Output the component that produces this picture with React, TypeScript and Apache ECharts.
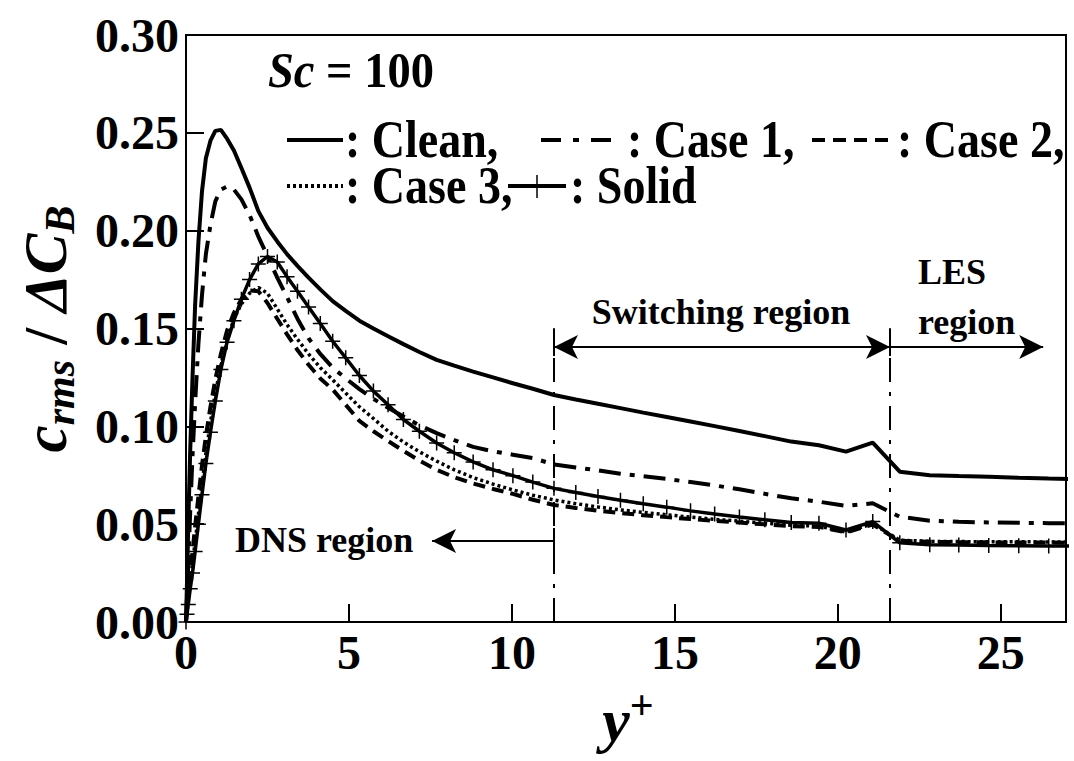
import React, { useEffect, useRef } from 'react';
import * as echarts from 'echarts';

// wall distance y+ (grid points of the profiles)
const yPlus = [0, 0.03, 0.07, 0.13, 0.2, 0.28, 0.38, 0.49, 0.61, 0.75, 0.9, 1.07, 1.26, 1.47, 1.7, 1.95, 2.22, 2.5, 2.8, 3.1, 3.42, 3.76, 4.12, 4.5, 4.9, 5.32, 5.75, 6.2, 6.67, 7.16, 7.69, 8.23, 8.81, 9.42, 10.03, 10.64, 11.29, 11.96, 12.64, 13.33, 14.03, 14.75, 15.48, 16.22, 16.98, 17.76, 18.57, 19.42, 20.25, 21.07, 21.9, 22.82, 23.71, 24.63, 25.55, 26.47, 27.39];

const clean = [0, 0.02, 0.05, 0.088, 0.125, 0.162, 0.194, 0.22, 0.237, 0.246, 0.251, 0.2515, 0.247, 0.241, 0.232, 0.222, 0.21, 0.2015, 0.1945, 0.188, 0.182, 0.176, 0.17, 0.164, 0.159, 0.154, 0.15, 0.146, 0.142, 0.138, 0.134, 0.131, 0.128, 0.125, 0.122, 0.1192, 0.116, 0.1137, 0.1115, 0.1093, 0.107, 0.1048, 0.1025, 0.1001, 0.0976, 0.095, 0.0922, 0.0903, 0.0871, 0.0917, 0.0768, 0.075, 0.0746, 0.0742, 0.0737, 0.0733, 0.073];

const case1 = [0, 0.012, 0.03, 0.057, 0.085, 0.112, 0.142, 0.167, 0.188, 0.203, 0.215, 0.221, 0.2226, 0.221, 0.216, 0.208, 0.197, 0.187, 0.176, 0.166, 0.155, 0.145, 0.137, 0.13, 0.1245, 0.119, 0.114, 0.1095, 0.105, 0.1005, 0.0965, 0.093, 0.0895, 0.0872, 0.0855, 0.0838, 0.0805, 0.079, 0.0775, 0.0758, 0.0745, 0.0731, 0.0715, 0.0698, 0.0678, 0.0655, 0.0632, 0.0615, 0.0593, 0.0607, 0.0538, 0.0518, 0.0512, 0.0509, 0.0507, 0.0505, 0.0504];

const case2 = [0, 0.006, 0.013, 0.024, 0.036, 0.049, 0.064, 0.08, 0.095, 0.11, 0.124, 0.137, 0.149, 0.158, 0.165, 0.1695, 0.169, 0.163, 0.155, 0.147, 0.139, 0.1315, 0.1245, 0.1188, 0.111, 0.1028, 0.0975, 0.0925, 0.0875, 0.0825, 0.0778, 0.074, 0.0708, 0.068, 0.0655, 0.0625, 0.0598, 0.0583, 0.0569, 0.0557, 0.0546, 0.0536, 0.0526, 0.0517, 0.0508, 0.0499, 0.049, 0.0486, 0.0458, 0.0498, 0.0415, 0.041, 0.0408, 0.0407, 0.0406, 0.0406, 0.0405];

const case3 = [0, 0.005, 0.011, 0.02, 0.03, 0.041, 0.055, 0.07, 0.086, 0.102, 0.117, 0.131, 0.144, 0.155, 0.1625, 0.168, 0.171, 0.168, 0.16, 0.152, 0.1445, 0.137, 0.13, 0.1238, 0.117, 0.11, 0.104, 0.0975, 0.092, 0.087, 0.0822, 0.0778, 0.0738, 0.0705, 0.0675, 0.0648, 0.0624, 0.0605, 0.0588, 0.0573, 0.056, 0.0548, 0.0536, 0.0525, 0.0515, 0.0505, 0.0495, 0.049, 0.046, 0.0502, 0.0418, 0.0412, 0.0411, 0.041, 0.041, 0.0409, 0.0409];

const solid = [0, 0.004, 0.009, 0.017, 0.025, 0.036, 0.05, 0.065, 0.081, 0.097, 0.113, 0.129, 0.143, 0.154, 0.165, 0.175, 0.183, 0.1868, 0.184, 0.1765, 0.169, 0.161, 0.1525, 0.1435, 0.135, 0.126, 0.118, 0.111, 0.1035, 0.0975, 0.0915, 0.0865, 0.0818, 0.0778, 0.0748, 0.0715, 0.0683, 0.0662, 0.0641, 0.0622, 0.0604, 0.0587, 0.0568, 0.0552, 0.0537, 0.0522, 0.0508, 0.0505, 0.047, 0.0513, 0.0405, 0.0395, 0.0393, 0.0391, 0.039, 0.0389, 0.0388];

// axis settings
const xMin = 0;
const xMax = 27;
const xStep = 5;
const yMin = 0;
const yMax = 0.3;
const yStep = 0.05;

// region boundaries (annotations, data coordinates)
const switchX = 11.29;
const lesX = 21.6;
const regionTop = 0.15;
const arrowY = 0.1406;
const lesArrowEnd = 26.3;
const dnsY = 0.0414;
const dnsArrowEnd = 7.55;

const FONT = '"Liberation Serif", "Times New Roman", Times, serif';
const PLUS =
  'path://M-0.1,-1 L0.1,-1 L0.1,-0.1 L1,-0.1 L1,0.1 L0.1,0.1 L0.1,1 L-0.1,1 L-0.1,0.1 L-1,0.1 L-1,-0.1 L-0.1,-0.1 Z';

const pairs = (ys: number[]) => yPlus.map((x, i) => [x, ys[i]]);

function txt(x: number, y: number, text: string, size: number, align = 'left', scaleX = 1) {
  return {
    type: 'text',
    x,
    y,
    scaleX,
    silent: true,
    style: {
      text,
      fontFamily: FONT,
      fontWeight: 'bold',
      fontSize: size,
      fill: '#000',
      textAlign: align,
      align,
      textVerticalAlign: 'middle',
      verticalAlign: 'middle',
    },
  };
}

function seg(x1: number, y1: number, x2: number, y2: number, width: number, dash?: number[]) {
  return {
    type: 'line',
    silent: true,
    shape: { x1, y1, x2, y2 },
    style: { stroke: '#000', lineWidth: width, lineDash: dash || null, lineCap: 'butt' },
  };
}

export default function App() {
  const ref = useRef<HTMLDivElement>(null);

  useEffect(() => {
    if (!ref.current) return;
    const chart = echarts.init(ref.current, undefined, { renderer: 'svg' });

    const vLine = { color: '#000', width: 2, type: [24, 10, 4, 10] };
    const sLine = { color: '#000', width: 2, type: 'solid' };
    const LF = 52;
    const LS = 0.885;

    const option: any = {
      animation: false,
      backgroundColor: '#fff',
      grid: {
        left: 186,
        right: 8,
        top: 35,
        bottom: 139,
        show: true,
        borderColor: '#000',
        borderWidth: 2,
        backgroundColor: 'transparent',
      },
      xAxis: {
        type: 'value',
        min: xMin,
        max: xMax,
        interval: xStep,
        axisLine: { show: true, lineStyle: { color: '#000', width: 2 } },
        axisTick: { show: true, inside: true, length: 18, lineStyle: { color: '#000', width: 2 } },
        axisLabel: {
          color: '#000',
          fontFamily: FONT,
          fontWeight: 'bold',
          fontSize: 48,
          margin: 6,
          showMaxLabel: false,
          formatter: (v: number) => (v % xStep === 0 ? String(v) : ''),
        },
        splitLine: { show: false },
      },
      yAxis: {
        type: 'value',
        min: yMin,
        max: yMax,
        interval: yStep,
        axisLine: { show: true, lineStyle: { color: '#000', width: 2 } },
        axisTick: { show: true, inside: true, length: 18, lineStyle: { color: '#000', width: 2 } },
        axisLabel: {
          color: '#000',
          fontFamily: FONT,
          fontWeight: 'bold',
          fontSize: 48,
          margin: 7,
          formatter: (v: number) => v.toFixed(2),
        },
        splitLine: { show: false },
      },
      series: [
        {
          name: 'Clean',
          type: 'line',
          data: pairs(clean),
          showSymbol: false,
          lineStyle: { color: '#000', width: 4 },
          z: 3,
          markLine: {
            silent: true,
            animation: false,
            symbol: ['none', 'none'],
            symbolSize: [18, 24],
            label: { show: false },
            itemStyle: { color: '#000' },
            data: [
              [{ coord: [switchX, 0], lineStyle: vLine }, { coord: [switchX, regionTop] }],
              [{ coord: [lesX, 0], lineStyle: vLine }, { coord: [lesX, regionTop] }],
              [{ coord: [switchX, 0.136], lineStyle: sLine }, { coord: [switchX, regionTop] }],
              [{ coord: [lesX, 0.136], lineStyle: sLine }, { coord: [lesX, regionTop] }],
              [{ coord: [switchX, 0.035], lineStyle: sLine }, { coord: [switchX, 0.048] }],
              [
                { coord: [switchX, arrowY], symbol: 'arrow', lineStyle: sLine },
                { coord: [lesX, arrowY], symbol: 'arrow' },
              ],
              [
                { coord: [lesX, arrowY], symbol: 'none', lineStyle: sLine },
                { coord: [lesArrowEnd, arrowY], symbol: 'arrow' },
              ],
              [
                { coord: [switchX, dnsY], symbol: 'none', lineStyle: sLine },
                { coord: [dnsArrowEnd, dnsY], symbol: 'arrow' },
              ],
            ],
          },
        },
        {
          name: 'Case 1',
          type: 'line',
          data: pairs(case1),
          showSymbol: false,
          lineStyle: { color: '#000', width: 4, type: [22, 9, 5, 9] },
          z: 3,
        },
        {
          name: 'Case 2',
          type: 'line',
          data: pairs(case2),
          showSymbol: false,
          lineStyle: { color: '#000', width: 4, type: [12, 7] },
          z: 3,
        },
        {
          name: 'Case 3',
          type: 'line',
          data: pairs(case3),
          showSymbol: false,
          lineStyle: { color: '#000', width: 3.5, type: [3, 3] },
          z: 3,
        },
        {
          name: 'Solid',
          type: 'line',
          data: pairs(solid),
          showSymbol: true,
          symbol: PLUS,
          symbolSize: 15,
          itemStyle: { color: '#000', borderWidth: 0 },
          lineStyle: { color: '#000', width: 3.5 },
          z: 4,
        },
      ],
      graphic: [
        // legend
        {
          type: 'text',
          x: 268,
          y: 70,
          scaleX: 0.93,
          silent: true,
          style: {
            text: '{i|Sc}{n| = 100}',
            fill: '#000',
            textVerticalAlign: 'middle',
            verticalAlign: 'middle',
            rich: {
              i: { fontFamily: FONT, fontStyle: 'italic', fontWeight: 'bold', fontSize: 50 },
              n: { fontFamily: FONT, fontWeight: 'bold', fontSize: 50 },
            },
          },
        },
        seg(287, 140, 343, 140, 4),
        txt(345, 140, ': Clean,', LF, 'left', LS),
        seg(541, 140, 622, 140, 4, [20, 12, 6, 12]),
        txt(627, 140, ': Case 1,', LF, 'left', LS),
        seg(812, 140, 893, 140, 4, [13, 8]),
        txt(897, 140, ': Case 2,', LF, 'left', LS),
        seg(287, 186, 343, 186, 4, [3, 3]),
        txt(345, 186, ': Case 3,', LF, 'left', LS),
        seg(508, 186, 566, 186, 4),
        seg(537, 175, 537, 198, 1.5),
        txt(570, 186, ': Solid', LF, 'left', LS),
        // region annotations
        txt(721, 312, 'Switching region', 36, 'center'),
        txt(918, 272, 'LES', 36),
        txt(918, 322, 'region', 36),
        txt(235, 540, 'DNS region', 36),
        // axis names
        {
          type: 'text',
          x: 628,
          y: 720,
          silent: true,
          style: {
            text: '{i|y}{p|+}',
            fill: '#000',
            textAlign: 'center',
            align: 'center',
            textVerticalAlign: 'middle',
            verticalAlign: 'middle',
            rich: {
              i: { fontFamily: FONT, fontStyle: 'italic', fontWeight: 'bold', fontSize: 62 },
              p: { fontFamily: FONT, fontWeight: 'bold', fontSize: 42, padding: [0, 0, 30, 0] },
            },
          },
        },
        {
          type: 'group',
          x: 45,
          y: 329,
          rotation: Math.PI / 2,
          silent: true,
          children: [
            {
              type: 'text',
              x: 0,
              y: 0,
              style: {
                text: '{i|c}{s|rms}{n| / }{i|ΔC}{s|B}',
                fill: '#000',
                textAlign: 'center',
                align: 'center',
                textVerticalAlign: 'middle',
                verticalAlign: 'middle',
                rich: {
                  i: { fontFamily: FONT, fontStyle: 'italic', fontWeight: 'bold', fontSize: 61 },
                  n: { fontFamily: FONT, fontWeight: 'bold', fontSize: 61 },
                  s: { fontFamily: FONT, fontStyle: 'italic', fontWeight: 'bold', fontSize: 42, padding: [30, 0, 0, 0] },
                },
              },
            },
          ],
        },
      ],
    };

    chart.setOption(option);
    return () => chart.dispose();
  }, []);

  return (
    <div
      ref={ref}
      style={{ position: 'fixed', left: 0, top: 0, width: 1074, height: 761, background: '#fff' }}
    />
  );
}
